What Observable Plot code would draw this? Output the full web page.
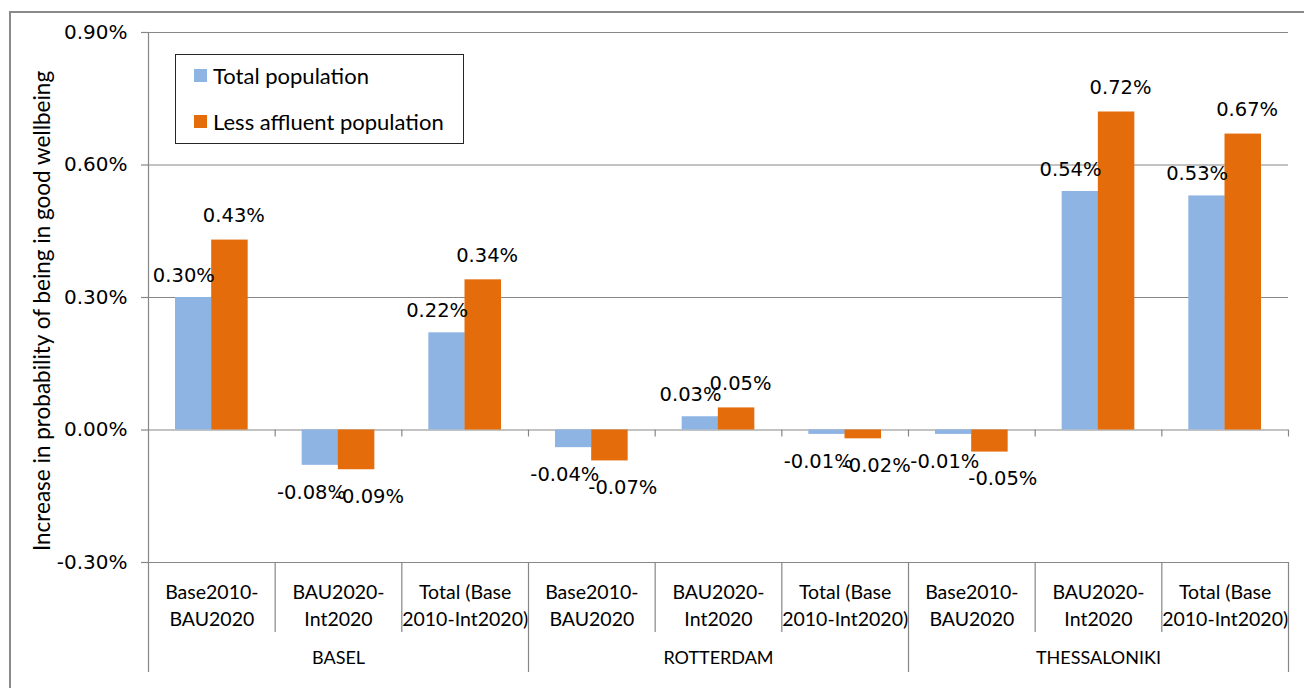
<!DOCTYPE html>
<html>
<head>
<meta charset="utf-8">
<script src="https://cdn.jsdelivr.net/npm/d3@7"></script>
<script src="https://cdn.jsdelivr.net/npm/@observablehq/plot@0.6"></script>
<style>
  html, body { margin: 0; padding: 0; background: #fff; overflow: hidden; width: 1304px; height: 688px; }
  #wrap { position: relative; width: 1304px; height: 688px; }
  #frame { position: absolute; left: 9px; top: 11px; width: 1400px; height: 800px; border: 2px solid #8a8a8a; box-sizing: border-box; }
  #chart { position: absolute; left: 0; top: 0; }
  #legend { position: absolute; left: 175px; top: 54px; width: 289px; height: 90px; border: 1.5px solid #262626; box-sizing: border-box; background: #fff; font-family: Lato, sans-serif; font-size: 22px; color: #000; }
  .item { position: absolute; left: 18px; display: flex; align-items: center; height: 26px; }
  .sw { width: 13px; height: 13px; margin-right: 6px; }
</style>
</head>
<body>
<div id="wrap">
  <div id="frame"></div>
  <div id="chart"></div>
  <div id="legend"></div>
</div>
<script>
// ---- data ----
const cities = ["BASEL", "ROTTERDAM", "THESSALONIKI"];
const comparisons = ["Base2010-\nBAU2020", "BAU2020-\nInt2020", "Total (Base\n2010-Int2020)"];
const series = ["Total population", "Less affluent population"];
const totalPopulation = [0.30, -0.08, 0.22, -0.04, 0.03, -0.01, -0.01, 0.54, 0.53];
const lessAffluent = [0.43, -0.09, 0.34, -0.07, 0.05, -0.02, -0.05, 0.72, 0.67];
const yTicks = [-0.30, 0.00, 0.30, 0.60, 0.90];
const yTitle = "Increase in probability of being in good wellbeing";

// ---- layout / style ----
const W = 1304, H = 688;
const mL = 148, mR = 16, mT = 32, mB = 126;
const frameH = H - mT - mB;
const step = (W - mL - mR) / 9;
const barW = 36.5, outer = 27;
const colors = ["#8EB4E3", "#E46C0A"];
const grid = "#878787";

const rows = [];
cities.forEach((city, c) => comparisons.forEach((comp, k) => {
  const i = c * 3 + k;
  rows.push({key: city + "|" + comp, city, comp, i});
}));
const keys = rows.map(d => d.key);
const bars = [];
rows.forEach(r => {
  bars.push({key: r.key, s: 0, value: totalPopulation[r.i]});
  bars.push({key: r.key, s: 1, value: lessAffluent[r.i]});
});
const fmt = v => v.toFixed(2) + "%";

const inner = keys.filter((k, i) => i % 3 !== 0);
const groupStarts = keys.filter((k, i) => i % 3 === 0 && i > 0);

const plot = Plot.plot({
  width: W, height: H,
  marginLeft: mL, marginRight: mR, marginTop: mT, marginBottom: mB,
  x: {type: "band", domain: keys, padding: 0, round: false, axis: null},
  y: {domain: [-0.3, 0.9], axis: null},
  style: {fontFamily: "'DejaVu Sans', sans-serif", fontSize: "19.5px", color: "#000", overflow: "visible", background: "transparent"},
  marks: [
    Plot.ruleY(yTicks, {y: d => d, stroke: grid, strokeWidth: 1.2}),
    Plot.barY(bars.filter(d => d.s === 0), {x: "key", y: "value", fill: colors[0], insetLeft: outer, insetRight: step - outer - barW}),
    Plot.barY(bars.filter(d => d.s === 1), {x: "key", y: "value", fill: colors[1], insetLeft: step - outer - barW, insetRight: outer}),
    // ticks on zero line at category boundaries
    Plot.ruleX(keys.slice(1), {x: d => d, dx: -step / 2, y1: 0, y2: 0, insetBottom: -7, stroke: grid, strokeWidth: 1.2}),
    Plot.ruleX([keys[keys.length - 1]], {x: d => d, dx: step / 2, y1: 0, y2: 0, insetBottom: -7, stroke: grid, strokeWidth: 1.2}),
    // y axis line and left table border
    Plot.ruleX([keys[0]], {x: d => d, dx: -step / 2, insetBottom: -110, stroke: grid, strokeWidth: 1.2}),
    // category separators in the table
    Plot.ruleX(inner, {x: d => d, dx: -step / 2, insetTop: frameH, insetBottom: -70, stroke: grid, strokeWidth: 1.2}),
    // group separators
    Plot.ruleX(groupStarts, {x: d => d, dx: -step / 2, insetTop: frameH, insetBottom: -110, stroke: grid, strokeWidth: 1.2}),
    Plot.ruleX([keys[keys.length - 1]], {x: d => d, dx: step / 2, insetTop: frameH, insetBottom: -110, stroke: grid, strokeWidth: 1.2}),
    Plot.axisY({ticks: yTicks, tickSize: 7, tickPadding: 14, tickFormat: fmt, stroke: grid, strokeWidth: 1.2, fill: "#000", fontSize: 20, label: null}),
    // value labels
    Plot.text(bars.filter(d => d.s === 0 && d.value >= 0), {x: "key", y: "value", text: d => fmt(d.value), dx: -28, dy: -22, fill: "#000"}),
    Plot.text(bars.filter(d => d.s === 0 && d.value < 0), {x: "key", y: "value", text: d => fmt(d.value), dx: -27, dy: 27, fill: "#000"}),
    Plot.text(bars.filter(d => d.s === 1 && d.value >= 0), {x: "key", y: "value", text: d => fmt(d.value), dx: 22, dy: -24, fill: "#000"}),
    Plot.text(bars.filter(d => d.s === 1 && d.value < 0), {x: "key", y: "value", text: d => fmt(d.value), dx: 31, dy: 27, fill: "#000"}),
    // category labels
    Plot.text(rows, {x: "key", text: "comp", frameAnchor: "bottom", dy: 41.5, lineAnchor: "middle", lineHeight: 1.4, fontFamily: "Lato, sans-serif", fontSize: 19.5, fill: "#000"}),
    // city labels
    Plot.text(rows.filter((d, i) => i % 3 === 1), {x: "key", text: "city", frameAnchor: "bottom", dy: 96, lineAnchor: "middle", fontFamily: "Lato, sans-serif", fontSize: 18, fill: "#000"}),
    // y title
    Plot.text([yTitle], {text: d => d, frameAnchor: "left", textAnchor: "middle", lineAnchor: "middle", dx: -106, dy: 13.5, rotate: -90, fontFamily: "Lato, sans-serif", fontSize: 22.5, fill: "#000"})
  ]
});
document.getElementById("chart").appendChild(plot);

// legend
const legend = document.getElementById("legend");
series.forEach((name, i) => {
  const item = document.createElement("div");
  item.className = "item";
  item.style.top = (i === 0 ? 7 : 53) + "px";
  const sw = document.createElement("span");
  sw.className = "sw";
  sw.style.background = colors[i];
  const t = document.createElement("span");
  t.textContent = name;
  item.appendChild(sw);
  item.appendChild(t);
  legend.appendChild(item);
});
</script>
</body>
</html>
